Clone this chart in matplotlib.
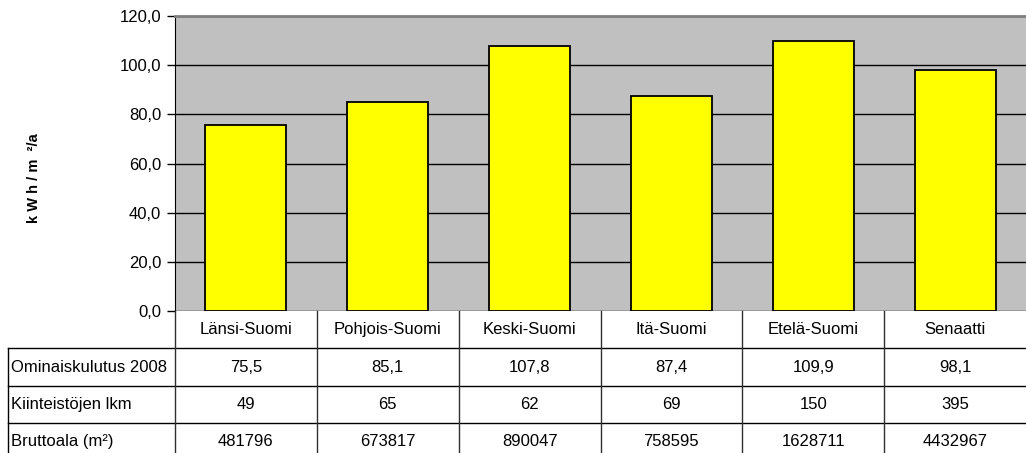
import matplotlib.pyplot as plt
import numpy as np
from matplotlib import font_manager

alueet = ["Länsi-Suomi", "Pohjois-Suomi", "Keski-Suomi", "Itä-Suomi", "Etelä-Suomi", "Senaatti"]
ominaiskulutus = [75.5, 85.1, 107.8, 87.4, 109.9, 98.1]
kiinteistot = [49, 65, 62, 69, 150, 395]
bruttoala = [481796, 673817, 890047, 758595, 1628711, 4432967]
rivit = ["Ominaiskulutus 2008", "Kiinteistöjen lkm", "Bruttoala (m²)"]

W, H = 1026, 453
nimet = {f.name for f in font_manager.fontManager.ttflist}
if 'Liberation Sans Narrow' in nimet:
    plt.rcParams['font.family'] = ['Liberation Sans Narrow', 'DejaVu Sans']
    FS = 14.5
else:
    plt.rcParams['font.family'] = ['Liberation Sans', 'DejaVu Sans']
    FS = 12

fig = plt.figure(figsize=(W / 100, H / 100), dpi=100)

# plot area in pixels
x0, x1 = 175, 1026
y_top, y_nolla = 16, 311

ax = fig.add_axes([x0 / W, 1 - y_nolla / H, (x1 - x0) / W, (y_nolla - y_top) / H])
ax.set_facecolor('#c0c0c0')
index = np.arange(len(alueet))
ax.bar(index, ominaiskulutus, width=1 / 1.75, color='#ffff00', edgecolor='black',
       linewidth=1.3, zorder=3)
ax.set_xlim(-0.5, len(alueet) - 0.5)
ax.set_ylim(0, 120)
ax.set_yticks(np.arange(0, 121, 20))
ax.set_yticklabels(["{:.1f}".format(v).replace('.', ',') for v in np.arange(0, 121, 20)],
                   fontsize=FS)
ax.yaxis.grid(True, color='black', linewidth=1)
ax.set_axisbelow(True)
ax.tick_params(axis='y', direction='out', length=6, width=1, pad=4)
ax.set_xticks([])
for s in ['right', 'bottom']:
    ax.spines[s].set_visible(False)
ax.spines['top'].set_color('#808080')
ax.spines['top'].set_linewidth(2)
ax.spines['left'].set_color('black')

fig.text(34 / W, 1 - 178 / H, "k W h / m  ²/a", rotation=90, fontsize=10.5,
         fontweight='bold', ha='center', va='center',
         family=['Liberation Sans', 'DejaVu Sans'])

# table drawn in pixel coordinates
tab = fig.add_axes([0, 0, 1, 1])
tab.set_xlim(0, W)
tab.set_ylim(H, 0)
tab.axis('off')

vasen = 8
sarake = (x1 - x0) / len(alueet)
rivi_y = [y_nolla, 348, 386, 423, 460]

# horizontal lines
for y in rivi_y[1:4]:
    tab.plot([vasen, x1], [y, y], color='black', lw=1)
# vertical lines
tab.plot([vasen, vasen], [rivi_y[1], H], color='black', lw=1)
for i in range(len(alueet)):
    x = x0 + i * sarake
    tab.plot([x, x], [rivi_y[0], H], color='#303030', lw=1)

for i, alue in enumerate(alueet):
    xc = x0 + (i + 0.5) * sarake
    tab.text(xc, (rivi_y[0] + rivi_y[1]) / 2, alue, fontsize=FS, ha='center', va='center')
    arvot = ["{:.1f}".format(ominaiskulutus[i]).replace('.', ','),
             str(kiinteistot[i]), str(bruttoala[i])]
    for r, arvo in enumerate(arvot):
        tab.text(xc, (rivi_y[r + 1] + rivi_y[r + 2]) / 2, arvo, fontsize=FS,
                 ha='center', va='center')

for r, nimi in enumerate(rivit):
    tab.text(vasen + 3, (rivi_y[r + 1] + rivi_y[r + 2]) / 2, nimi, fontsize=FS,
             ha='left', va='center')

fig.savefig('out.png', dpi=100)
